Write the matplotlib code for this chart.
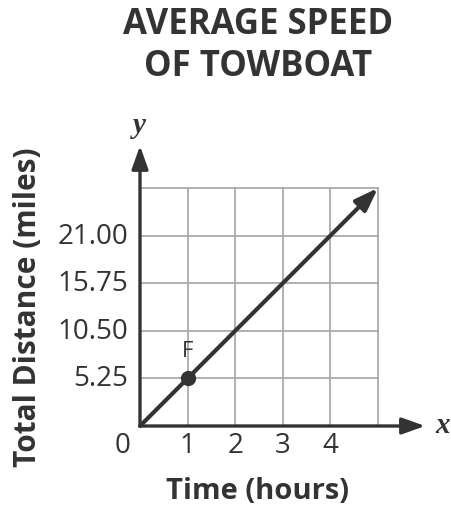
import matplotlib
matplotlib.use("Agg")
import matplotlib.pyplot as plt

# Data
hours = [1, 2, 3, 4]
hour_labels = ["1", "2", "3", "4"]
distance_ticks = [5.25, 10.50, 15.75, 21.00]
distance_labels = ["5.25", "10.50", "15.75", "21.00"]
point_F = (1, 5.25)
line_x = [0, 5]
line_y = [0, 26.25]
grid_x = [0, 1, 2, 3, 4, 5]
grid_y = [0, 5.25, 10.50, 15.75, 21.00, 26.25]

FONT = "Open Sans"
C = "#333333"

fig = plt.figure(figsize=(4.52, 5.10), dpi=100)
fig.patch.set_facecolor("white")
ax = fig.add_axes([140/452, (510-427)/510, 238/452, (427-189)/510])
ax.set_xlim(0, 5)
ax.set_ylim(0, 26.25)
for s in ax.spines.values():
    s.set_visible(False)
ax.set_xticks([])
ax.set_yticks([])

# grid
for gx in grid_x[1:]:
    ax.plot([gx, gx], [0, 26.25], color="#aaaaaa", lw=1.3, clip_on=False, zorder=1)
for gy in grid_y[1:]:
    ax.plot([0, 5], [gy, gy], color="#aaaaaa", lw=1.3, clip_on=False, zorder=1)

# axes arrows
ax.annotate("", xy=(5.99, 0), xytext=(0, 0),
            arrowprops=dict(arrowstyle="-|>,head_length=1.4,head_width=0.5", color=C, lw=2.4,
                            shrinkA=0, shrinkB=0), annotation_clip=False, zorder=3)
ax.annotate("", xy=(0, 30.9), xytext=(0, 0),
            arrowprops=dict(arrowstyle="-|>,head_length=1.4,head_width=0.5", color=C, lw=2.4,
                            shrinkA=0, shrinkB=0), annotation_clip=False, zorder=3)

# line with arrow
ax.annotate("", xy=(line_x[1], line_y[1]), xytext=(line_x[0], line_y[0]),
            arrowprops=dict(arrowstyle="-|>,head_length=1.4,head_width=0.5", color=C, lw=3.0,
                            shrinkA=0, shrinkB=0), annotation_clip=False, zorder=4)
ax.plot([point_F[0]], [point_F[1]], "o", color=C, ms=10, zorder=5, clip_on=False)
ax.text(point_F[0], point_F[1] + 3.1, "F", ha="center", va="center", fontsize=16,
        family=FONT, color=C)

# tick labels
for h, lab in zip(hours, hour_labels):
    ax.text(h, -2.1, lab, ha="center", va="center", fontsize=20, family=FONT, color=C)
for d, lab in zip(distance_ticks, distance_labels):
    ax.text(-0.25, d, lab, ha="right", va="center", fontsize=20, family=FONT, color=C)
ax.text(-0.36, -2.1, "0", ha="center", va="center", fontsize=20, family=FONT, color=C)

# axis letters
ax.text(6.35, 0.2, "x", ha="center", va="center", fontsize=21, family="Liberation Serif",
        style="italic", weight="bold", color=C)
ax.text(-0.02, 33.2, "y", ha="center", va="center", fontsize=21, family="Liberation Serif",
        style="italic", weight="bold", color=C)

# axis titles
fig.text(258/452, 1 - 492/510, "Time (hours)", ha="center", va="center", fontsize=21,
         family=FONT, weight="bold", color=C)
fig.text(28/452, 1 - 307/510, "Total Distance (miles)", ha="center", va="center",
         fontsize=21.5, family=FONT, weight="bold", color=C, rotation=90)

# title
fig.text(258/452, 1 - 46/510, "AVERAGE SPEED\nOF TOWBOAT", ha="center", va="center",
         fontsize=25, family=FONT, weight="bold", color=C, linespacing=1.2)

fig.savefig("out.png", dpi=100, facecolor="white")
